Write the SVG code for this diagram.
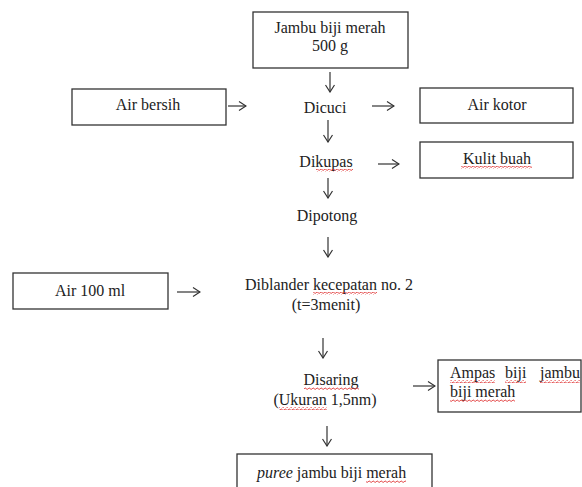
<svg xmlns="http://www.w3.org/2000/svg" width="582" height="487" viewBox="0 0 582 487" font-family="Liberation Serif, Times New Roman, serif" font-size="16">
<style>
.box{fill:#fff;stroke:#333;stroke-width:1.3}
.t{fill:#222}
.c{text-anchor:middle}
.ar{stroke:#333;stroke-width:1.2;fill:none;marker-end:url(#ah)}
.wv{fill:url(#wavy)}
</style>
<defs>
<marker id="ah" viewBox="0 0 10 10" refX="9" refY="5" markerWidth="10" markerHeight="10" markerUnits="userSpaceOnUse" orient="auto">
<path d="M2,0.5 L9,5 L2,9.5" fill="none" stroke="#333" stroke-width="1.2"/>
</marker>
<pattern id="wavy" width="4" height="3" patternUnits="userSpaceOnUse">
<path d="M0,2 Q1,0 2,1.5 T4,2" fill="none" stroke="#d22" stroke-width="0.8"/>
</pattern>
</defs>
<rect width="582" height="487" fill="#fff"/>

<g id="connectors">
<line class="ar" x1="330" y1="72" x2="330" y2="92"/>
<line class="ar" x1="228" y1="106" x2="246" y2="106"/>
<line class="ar" x1="372" y1="106" x2="394" y2="106"/>
<line class="ar" x1="328" y1="120" x2="328" y2="142"/>
<line class="ar" x1="378" y1="164" x2="399" y2="164"/>
<line class="ar" x1="328" y1="178" x2="328" y2="198"/>
<line class="ar" x1="328" y1="237" x2="328" y2="257"/>
<line class="ar" x1="177" y1="292" x2="200" y2="292"/>
<line class="ar" x1="323" y1="338" x2="323" y2="358"/>
<line class="ar" x1="413" y1="386" x2="435" y2="386"/>
<line class="ar" x1="327" y1="426" x2="327" y2="446"/>
</g>

<g id="jambu">
<rect class="box" x="253" y="12" width="155" height="56"/>
<text class="t c" x="330" y="33">Jambu biji merah</text>
<text class="t c" x="330" y="51">500 g</text>
</g>

<g id="air-bersih">
<rect class="box" x="72" y="89" width="154" height="36"/>
<text class="t c" x="148" y="110">Air bersih</text>
</g>

<g id="dicuci">
<text class="t c" x="325" y="113">Dicuci</text>
</g>

<g id="air-kotor">
<rect class="box" x="420" y="88" width="153" height="35"/>
<text class="t c" x="497" y="110">Air kotor</text>
</g>

<g id="dikupas">
<text class="t c" x="326" y="167">Dikupas</text>
<rect class="wv" x="316" y="169" width="37" height="3"/>
</g>

<g id="kulit-buah">
<rect class="box" x="420" y="142" width="153" height="36"/>
<text class="t c" x="497" y="164">Kulit buah</text>
<rect class="wv" x="461" y="166" width="71" height="3"/>
</g>

<g id="dipotong">
<text class="t c" x="327" y="221">Dipotong</text>
</g>

<g id="air-100">
<rect class="box" x="13" y="273" width="155" height="36"/>
<text class="t c" x="90" y="296">Air 100 ml</text>
</g>

<g id="diblander">
<text class="t" x="245" y="290">Diblander kecepatan no. 2</text>
<text class="t c" x="326" y="310">(t=3menit)</text>
<rect class="wv" x="313" y="292" width="64" height="3"/>
</g>

<g id="disaring">
<text class="t c" x="331" y="385">Disaring</text>
<text class="t c" x="325" y="405">(Ukuran 1,5nm)</text>
<rect class="wv" x="304" y="387" width="55" height="3"/>
<rect class="wv" x="279" y="407" width="48" height="3"/>
</g>

<g id="ampas">
<rect class="box" x="438" y="360" width="143" height="52"/>
<text class="t" x="450" y="378">Ampas</text>
<text class="t" x="505" y="378">biji</text>
<text class="t" x="540" y="378">jambu</text>
<text class="t" x="450" y="397">biji merah</text>
<rect class="wv" x="450" y="380" width="45" height="3"/>
<rect class="wv" x="505" y="380" width="21" height="3"/>
<rect class="wv" x="540" y="380" width="40" height="3"/>
<rect class="wv" x="450" y="399" width="65" height="3"/>
</g>

<g id="puree">
<rect class="box" x="237" y="454" width="195" height="40"/>
<text class="t" x="257" y="478"><tspan font-style="italic">puree</tspan> jambu biji merah</text>
<rect class="wv" x="366" y="480" width="40" height="3"/>
</g>
</svg>
